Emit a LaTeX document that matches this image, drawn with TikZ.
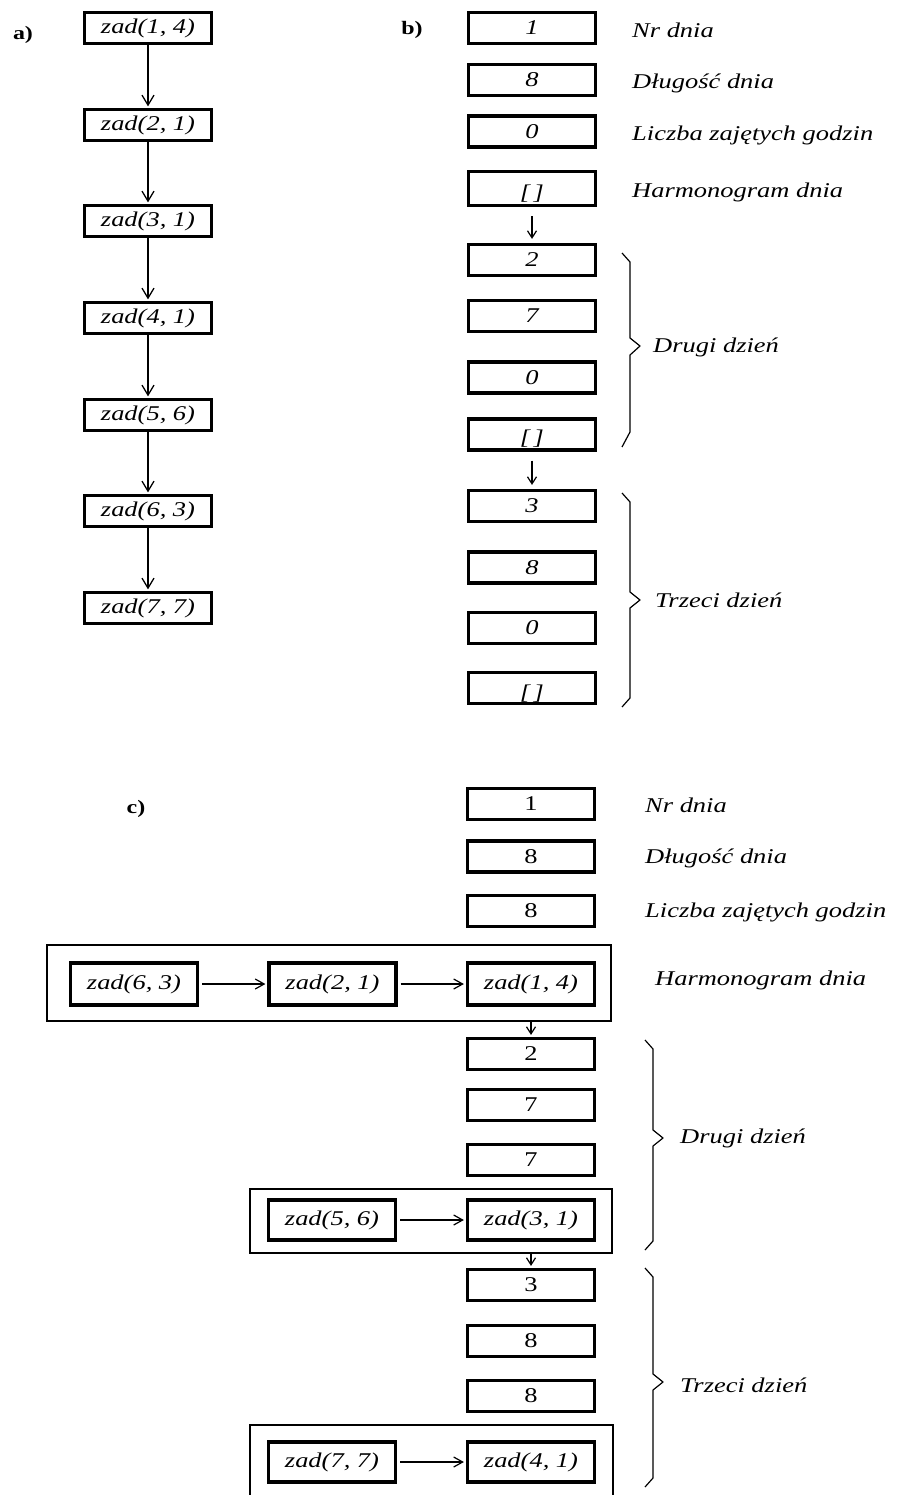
\documentclass[tikz,border=0pt]{standalone}
\usepackage{fontspec}
\setmainfont{Liberation Serif}[FakeStretch=1.26]
\usetikzlibrary{arrows.meta}
\begin{document}
\begin{tikzpicture}[x=1pt,y=-1pt,
  every node/.style={font=\fontsize{21}{24}\selectfont},
  box/.style={draw, line width=3.2pt, minimum width=127pt, minimum height=31pt, inner sep=0pt, font=\fontsize{21}{24}\selectfont\itshape},
  cbox/.style={box, font=\fontsize{21}{24}\selectfont},
  ibox/.style={box, minimum height=40pt},
  outer/.style={draw, line width=1.2pt, inner sep=0pt},
  lab/.style={font=\fontsize{19}{22}\selectfont\bfseries},
  txt/.style={anchor=west, inner sep=0pt, font=\fontsize{21}{24}\selectfont\itshape},
  arr/.style={-{Straight Barb[length=10pt,width=12pt]}, line width=1.3pt, shorten >=1.5pt},
  sarr/.style={-{Straight Barb[length=7pt,width=9pt]}, line width=1.2pt},
  harr/.style={-{Straight Barb[length=9pt,width=10pt]}, line width=1.2pt, shorten <=3pt, shorten >=2pt},
  brc/.style={line width=1.2pt, line join=round}]
\useasboundingbox (0,0) rectangle (901,1495);
\clip (0,0) rectangle (901,1495);

% ---------- a) ----------
\node[lab] (la) at (23,35) {a)};
\node[box] (a1) at (148,28) {zad(1, 4)};
\node[box] (a2) at (148,125) {zad(2, 1)};
\node[box] (a3) at (148,221) {zad(3, 1)};
\node[box] (a4) at (148,318) {zad(4, 1)};
\node[box] (a5) at (148,415) {zad(5, 6)};
\node[box] (a6) at (148,511) {zad(6, 3)};
\node[box] (a7) at (148,608) {zad(7, 7)};
\foreach \p/\q in {a1/a2,a2/a3,a3/a4,a4/a5,a5/a6,a6/a7}
  \draw[arr] (\p) -- (\q);

% ---------- b) ----------
\node[lab] (lb) at (412,30) {b)};
\node[box] (b1) at (532,28) {1};
\node[box] (b2) at (532,80) {8};
\node[box] (b3) at (532,131.5) {0};
\node[box, minimum height=34pt] (b4) at (532,188.5) {\smash{\raisebox{-11pt}{[\,]}}};
\node[box] (b5) at (532,260) {2};
\node[box] (b6) at (532,316) {7};
\node[box] (b7) at (532,377.5) {0};
\node[box] (b8) at (532,434.5) {\smash{\raisebox{-10pt}{[\,]}}};
\node[box] (b9) at (532,506) {3};
\node[box] (b10) at (532,567.5) {8};
\node[box] (b11) at (532,628) {0};
\node[box] (b12) at (532,688) {\smash{\raisebox{-11pt}{[\,]}}};
\draw[sarr, shorten <=9pt, shorten >=4pt] (b4) -- (b5);
\draw[sarr, shorten <=9pt, shorten >=4pt] (b8) -- (b9);

\node[txt] (tb1) at (632,30) {Nr dnia};
\node[txt] (tb2) at (632,83) {Długość dnia};
\node[txt] (tb3) at (632,135) {Liczba zajętych godzin};
\node[txt] (tb4) at (632,192) {Harmonogram dnia};

\draw[brc] (622,253) -- (630,262) -- (630,338) -- (640,346) -- (630,355) -- (630,432) -- (622,447);
\node[txt] (db2) at (653,347) {Drugi dzień};
\draw[brc] (622,493) -- (630,502) -- (630,592) -- (640,600) -- (630,608) -- (630,698) -- (622,707);
\node[txt] (db3) at (655,600) {Trzeci dzień};

% ---------- c) ----------
\node[lab] (lc) at (136,809) {c)};
\node[cbox] (c1) at (531,804) {1};
\node[cbox] (c2) at (531,856.5) {8};
\node[cbox] (c3) at (531,911) {8};
\node[txt] (tc1) at (645,805) {Nr dnia};
\node[txt] (tc2) at (645,858) {Długość dnia};
\node[txt] (tc3) at (645,912) {Liczba zajętych godzin};
\node[txt] (tc4) at (655,980) {Harmonogram dnia};

\node[outer, minimum width=564pt, minimum height=76pt] (o1) at (329,983) {};
\node[ibox, minimum height=42pt] (i1) at (134,984) {zad(6, 3)};
\node[ibox, minimum height=42pt] (i2) at (332.5,984) {zad(2, 1)};
\node[ibox, minimum height=42pt] (i3) at (531,984) {zad(1, 4)};
\draw[harr] (i1) -- (i2);
\draw[harr] (i2) -- (i3);

\node[cbox] (c4) at (531,1054) {2};
\node[cbox] (c5) at (531,1105) {7};
\node[cbox] (c6) at (531,1160) {7};
\draw[sarr, shorten >=2pt] (i3.south |- o1.south) -- (c4);

\node[outer, minimum width=362pt, minimum height=64pt] (o2) at (431,1221) {};
\node[ibox] (j1) at (332,1220) {zad(5, 6)};
\node[ibox] (j2) at (531,1220) {zad(3, 1)};
\draw[harr] (j1) -- (j2);

\node[cbox] (c7) at (531,1285) {3};
\node[cbox] (c8) at (531,1341) {8};
\node[cbox] (c9) at (531,1396) {8};
\draw[sarr, shorten >=2pt] (j2.south |- o2.south) -- (c7);

\node[outer, minimum width=363pt, minimum height=90pt] (o3) at (431.5,1470) {};
\node[ibox] (k1) at (332,1462) {zad(7, 7)};
\node[ibox] (k2) at (531,1462) {zad(4, 1)};
\draw[harr] (k1) -- (k2);

\draw[brc] (645,1040) -- (653,1049) -- (653,1130) -- (663,1138) -- (653,1146) -- (653,1241) -- (645,1250);
\node[txt] (dc2) at (680,1138) {Drugi dzień};
\draw[brc] (645,1268) -- (653,1277) -- (653,1374) -- (663,1382) -- (653,1390) -- (653,1478) -- (645,1487);
\node[txt] (dc3) at (680,1385) {Trzeci dzień};
\end{tikzpicture}
\end{document}
